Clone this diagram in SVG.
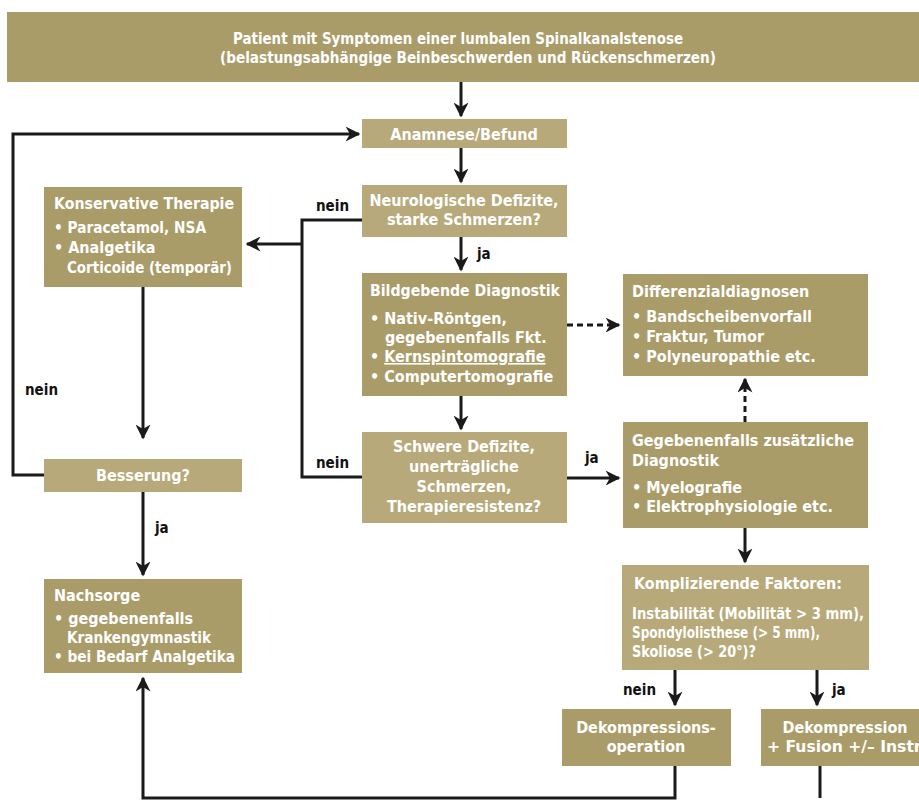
<svg xmlns="http://www.w3.org/2000/svg" width="919" height="800" viewBox="0 0 919 800">
<defs>
<style>
.dk{fill:#aa9c68}
.lt{fill:#b7a979}
text{font-family:"Liberation Sans Narrow","DejaVu Sans Condensed","Liberation Sans",sans-serif;font-weight:bold;font-stretch:condensed;fill:#fff;font-size:16px}
.c{text-anchor:middle}
.lb{fill:#111;font-size:15px}
.ln{stroke:#1a1a1a;stroke-width:3;fill:none}
.da{stroke-dasharray:6 4}
</style>
<marker id="ah" viewBox="0 0 10 10" refX="9" refY="5" markerWidth="5" markerHeight="5" orient="auto" markerUnits="strokeWidth">
<path d="M0,0 L10,5 L0,10 L3,5 Z" fill="#1a1a1a"/>
</marker>
</defs>
<rect width="919" height="800" fill="#fff"/>

<g id="patient"><rect class="dk" x="7" y="12" width="912" height="70"/>
<text class="c" x="458" y="44" textLength="450" lengthAdjust="spacingAndGlyphs">Patient mit Symptomen einer lumbalen Spinalkanalstenose</text>
<text class="c" x="468" y="63" textLength="496" lengthAdjust="spacingAndGlyphs">(belastungsabhängige Beinbeschwerden und Rückenschmerzen)</text></g>

<g id="anamnese"><rect class="lt" x="362" y="119" width="205" height="29"/>
<text class="c" x="464" y="140">Anamnese/Befund</text></g>

<g id="neuro"><rect class="lt" x="362" y="185" width="205" height="52"/>
<text class="c" x="464" y="206">Neurologische Defizite,</text>
<text class="c" x="464" y="225">starke Schmerzen?</text></g>

<g id="bildgebend"><rect class="dk" x="362" y="273" width="205" height="123"/>
<text x="370" y="296" textLength="190" lengthAdjust="spacingAndGlyphs">Bildgebende Diagnostik</text>
<text x="370" y="324">• Nativ-Röntgen,</text>
<text x="385" y="343">gegebenenfalls Fkt.</text>
<text x="370" y="362">• <tspan text-decoration="underline">Kernspintomografie</tspan></text>
<text x="370" y="382">• Computertomografie</text></g>

<g id="schwere"><rect class="lt" x="362" y="432" width="205" height="91"/>
<text class="c" x="464" y="452">Schwere Defizite,</text>
<text class="c" x="464" y="472">unerträgliche</text>
<text class="c" x="464" y="492">Schmerzen,</text>
<text class="c" x="464" y="512">Therapieresistenz?</text></g>

<g id="konservativ"><rect class="dk" x="44" y="187" width="198" height="100"/>
<text x="54" y="209" textLength="180" lengthAdjust="spacingAndGlyphs">Konservative Therapie</text>
<text x="54" y="233" textLength="152" lengthAdjust="spacingAndGlyphs">• Paracetamol, NSA</text>
<text x="54" y="253">• Analgetika</text>
<text x="67" y="273" textLength="165" lengthAdjust="spacingAndGlyphs">Corticoide (temporär)</text></g>

<g id="besserung"><rect class="lt" x="44" y="459" width="198" height="33"/>
<text class="c" x="143" y="481">Besserung?</text></g>

<g id="nachsorge"><rect class="dk" x="44" y="579" width="198" height="94"/>
<text x="54" y="601">Nachsorge</text>
<text x="54" y="624">• gegebenenfalls</text>
<text x="67" y="643" textLength="144" lengthAdjust="spacingAndGlyphs">Krankengymnastik</text>
<text x="54" y="662" textLength="181" lengthAdjust="spacingAndGlyphs">• bei Bedarf Analgetika</text></g>

<g id="differenzial"><rect class="dk" x="623" y="274" width="245" height="102"/>
<text x="632" y="297">Differenzialdiagnosen</text>
<text x="632" y="322">• Bandscheibenvorfall</text>
<text x="632" y="342">• Fraktur, Tumor</text>
<text x="632" y="362">• Polyneuropathie etc.</text></g>

<g id="zusatz"><rect class="dk" x="623" y="422" width="245" height="106"/>
<text x="632" y="446">Gegebenenfalls zusätzliche</text>
<text x="632" y="466">Diagnostik</text>
<text x="632" y="493">• Myelografie</text>
<text x="632" y="512">• Elektrophysiologie etc.</text></g>

<g id="komplizierend"><rect class="lt" x="622" y="565" width="247" height="105"/>
<text x="634" y="589" textLength="208" lengthAdjust="spacingAndGlyphs">Komplizierende Faktoren:</text>
<text x="632" y="619" textLength="232" lengthAdjust="spacingAndGlyphs">Instabilität (Mobilität &gt; 3 mm),</text>
<text x="632" y="638" textLength="188" lengthAdjust="spacingAndGlyphs">Spondylolisthese (&gt; 5 mm),</text>
<text x="632" y="657" textLength="124" lengthAdjust="spacingAndGlyphs">Skoliose (&gt; 20°)?</text></g>

<g id="dekompression"><rect class="dk" x="562" y="709" width="169" height="57"/>
<text class="c" x="646" y="733">Dekompressions-</text>
<text class="c" x="646" y="752">operation</text></g>

<g id="fusion"><rect class="dk" x="761" y="709" width="170" height="57"/>
<text class="c" x="845" y="733">Dekompression</text>
<text x="767" y="752" textLength="158" lengthAdjust="spacingAndGlyphs">+ Fusion +/– Instr.</text></g>

<g id="connectors">
<line class="ln" x1="461" y1="82" x2="461" y2="116" marker-end="url(#ah)"/>
<line class="ln" x1="461" y1="148" x2="461" y2="182" marker-end="url(#ah)"/>
<line class="ln" x1="461" y1="237" x2="461" y2="270" marker-end="url(#ah)"/>
<line class="ln" x1="461" y1="396" x2="461" y2="429" marker-end="url(#ah)"/>
<line class="ln" x1="567" y1="478" x2="619" y2="478" marker-end="url(#ah)"/>
<line class="ln da" x1="567" y1="325" x2="619" y2="325" marker-end="url(#ah)"/>
<line class="ln da" x1="745" y1="422" x2="745" y2="379" marker-end="url(#ah)"/>
<line class="ln" x1="745" y1="528" x2="745" y2="562" marker-end="url(#ah)"/>
<line class="ln" x1="675" y1="670" x2="675" y2="705" marker-end="url(#ah)"/>
<line class="ln" x1="817" y1="670" x2="817" y2="705" marker-end="url(#ah)"/>
<polyline class="ln" points="362,220 302,220 302,477 362,477"/>
<line class="ln" x1="302" y1="244" x2="247" y2="244" marker-end="url(#ah)"/>
<line class="ln" x1="143" y1="287" x2="143" y2="438" marker-end="url(#ah)"/>
<polyline class="ln" points="44,475 13,475 13,134 359,134" marker-end="url(#ah)"/>
<line class="ln" x1="143" y1="492" x2="143" y2="575" marker-end="url(#ah)"/>
<polyline class="ln" points="675,766 675,798 143,798 143,678" marker-end="url(#ah)"/>
<line class="ln" x1="820" y1="766" x2="820" y2="798"/>
<text class="lb" x="316" y="211">nein</text>
<text class="lb" x="316" y="468">nein</text>
<text class="lb" x="25" y="395">nein</text>
<text class="lb" x="477" y="259">ja</text>
<text class="lb" x="585" y="463">ja</text>
<text class="lb" x="155" y="533">ja</text>
<text class="lb" x="623" y="695">nein</text>
<text class="lb" x="832" y="695">ja</text>
</g>
</svg>
